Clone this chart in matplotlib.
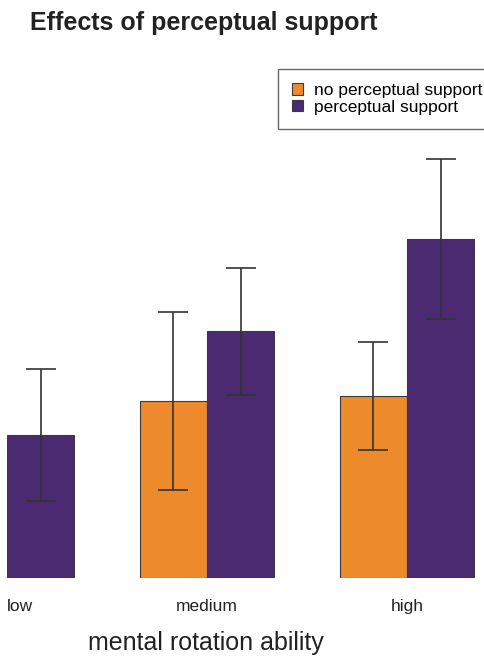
import matplotlib
matplotlib.use("Agg")
import matplotlib.pyplot as plt
import numpy as np

plt.rcParams['font.family'] = ['Liberation Sans', 'DejaVu Sans']

categories = ["low", "medium", "high"]
series_names = ["no perceptual support", "perceptual support"]
no_support = [130, 177, 182]
no_support_err = [60, 89, 54]
support = [143, 247, 339]
support_err = [66, 63.5, 80]

c_orange = "#EC8A2C"
c_purple = "#4B2A72"
edge = "#3a3a3a"

W, H = 485, 657
fig = plt.figure(figsize=(W / 100, H / 100), dpi=100)

base_px = 578
top_px = 100
left_px = 7
ax = fig.add_axes([left_px / W, 1 - base_px / H, (W - left_px) / W, (base_px - top_px) / H])
ax.set_ylim(0, base_px - top_px)

spacing = 200
ax.set_xlim(0, (W - left_px) / spacing)

x = np.arange(len(categories))
bw = 0.337
ek = dict(ecolor="#333333", elinewidth=1.2, capsize=11, capthick=1.2)
ax.bar(x - bw / 2, no_support, bw, yerr=no_support_err, color=c_orange,
       edgecolor=edge, linewidth=0.8, error_kw=ek, label=series_names[0], zorder=2)
ax.bar(x + bw / 2, support, bw, yerr=support_err, color=c_purple,
       edgecolor=edge, linewidth=0.8, error_kw=ek, label=series_names[1], zorder=3)

for s in ax.spines.values():
    s.set_visible(False)
ax.set_yticks([])
ax.set_xticks(x)
ax.set_xticklabels(categories, fontsize=12.5, color="#222222")
ax.get_xticklabels()[0].set_ha("left")
ax.tick_params(axis="x", length=0, pad=15)

fig.text(206 / W, 1 - 650 / H, "mental rotation ability", ha="center", va="baseline",
         fontsize=18, color="#222222")
fig.text(30 / W, 1 - 30 / H, "Effects of perceptual support", ha="left", va="baseline",
         fontsize=18, fontweight="bold", color="#222222")

leg = ax.legend(loc="upper left", bbox_to_anchor=(278 / W, 1 - 69 / H),
                bbox_transform=fig.transFigure, fontsize=12.5, frameon=True,
                fancybox=False, edgecolor="#444444", handlelength=0.65,
                handleheight=0.65, handletextpad=0.6, labelspacing=0.1,
                borderpad=0.8, borderaxespad=0)
leg.get_frame().set_linewidth(1.0)

fig.savefig("out.png", dpi=100)
